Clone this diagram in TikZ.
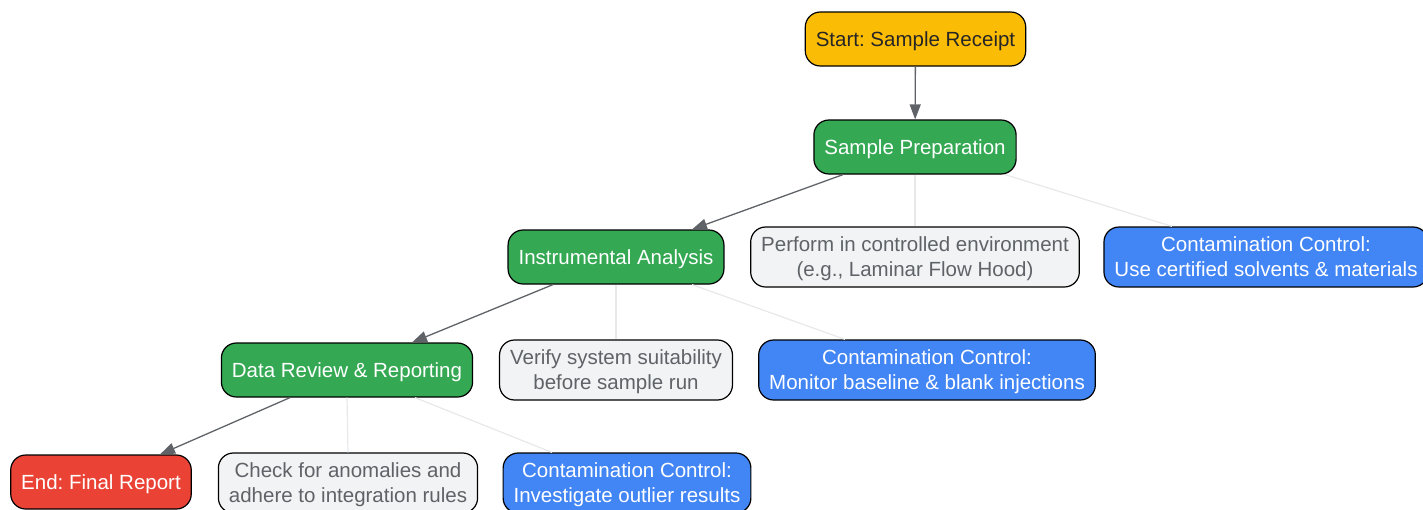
\documentclass[tikz,border=0pt]{standalone}
\usepackage{fontspec}
\setmainfont{Liberation Sans}
\usepackage{xcolor}
\usetikzlibrary{arrows.meta}

\definecolor{startyellow}{HTML}{FBBC05}
\definecolor{stagegreen}{HTML}{34A853}
\definecolor{endred}{HTML}{EA4335}
\definecolor{ctrlblue}{HTML}{4285F4}
\definecolor{notegray}{HTML}{F1F3F4}
\definecolor{notetext}{HTML}{5F6368}
\definecolor{flowgray}{HTML}{5F6368}
\definecolor{faintgray}{HTML}{E6E8EA}

\begin{document}
\frenchspacing
\begin{tikzpicture}[
    x=1pt,
    y=-1pt,
    >={Triangle[length=15pt,width=11pt]},
    line width=1.2pt
]

\tikzstyle{box}=[
    draw=black,
    rounded corners=15pt,
    minimum height=54pt,
    inner xsep=10.5pt,
    align=center,
    text depth=0pt,
    font=\fontsize{20.5}{25}\selectfont
]
\tikzstyle{stage}=[box, fill=stagegreen, text=white]
\tikzstyle{note}=[box, minimum height=60pt, fill=notegray, text=notetext]
\tikzstyle{ctrl}=[box, minimum height=60pt, fill=ctrlblue, text=white]
\tikzstyle{flow}=[->, draw=flowgray, line width=1.3pt]
\tikzstyle{link}=[draw=faintgray, line width=1.2pt]

\useasboundingbox (0,0) rectangle (1423,509);

% main line
\node[box, fill=startyellow, text=black!85] (start) at (915.5,39) {Start: Sample Receipt};
\node[stage] (prep) at (915,147) {Sample Preparation};
\node[stage] (instr) at (616,257) {Instrumental Analysis};
\node[stage] (review) at (347,370) {Data Review \& Reporting};
\node[box, fill=endred, text=white] (final) at (101,482) {End: Final Report};

% side notes
\node[note] (env) at (915,257) {Perform in controlled environment\\(e.g., Laminar Flow Hood)};
\node[ctrl] (cc1) at (1266,257) {Contamination Control:\\Use certified solvents \& materials};
\node[note] (verify) at (616,370) {Verify system suitability\\before sample run};
\node[ctrl] (cc2) at (927,370) {Contamination Control:\\Monitor baseline \& blank injections};
\node[note] (check) at (348,483) {Check for anomalies and\\adhere to integration rules};
\node[ctrl] (cc3) at (627,483) {Contamination Control:\\Investigate outlier results};

\draw[flow] (start) -- (prep);
\draw[flow] ([xshift=-72pt]prep.south) -- ([xshift=76pt]instr.north);
\draw[flow] ([xshift=-63pt]instr.south) -- ([xshift=65pt]review.north);
\draw[flow] ([xshift=-57pt]review.south) -- ([xshift=59pt]final.north);

\draw[link] (prep.south) -- (env.north);
\draw[link] ([xshift=90pt]prep.south) -- ([xshift=-94pt]cc1.north);
\draw[link] (instr.south) -- (verify.north);
\draw[link] ([xshift=76pt]instr.south) -- ([xshift=-82pt]cc2.north);
\draw[link] (review.south) -- (check.north);
\draw[link] ([xshift=68pt]review.south) -- ([xshift=-75pt]cc3.north);

\end{tikzpicture}
\end{document}
